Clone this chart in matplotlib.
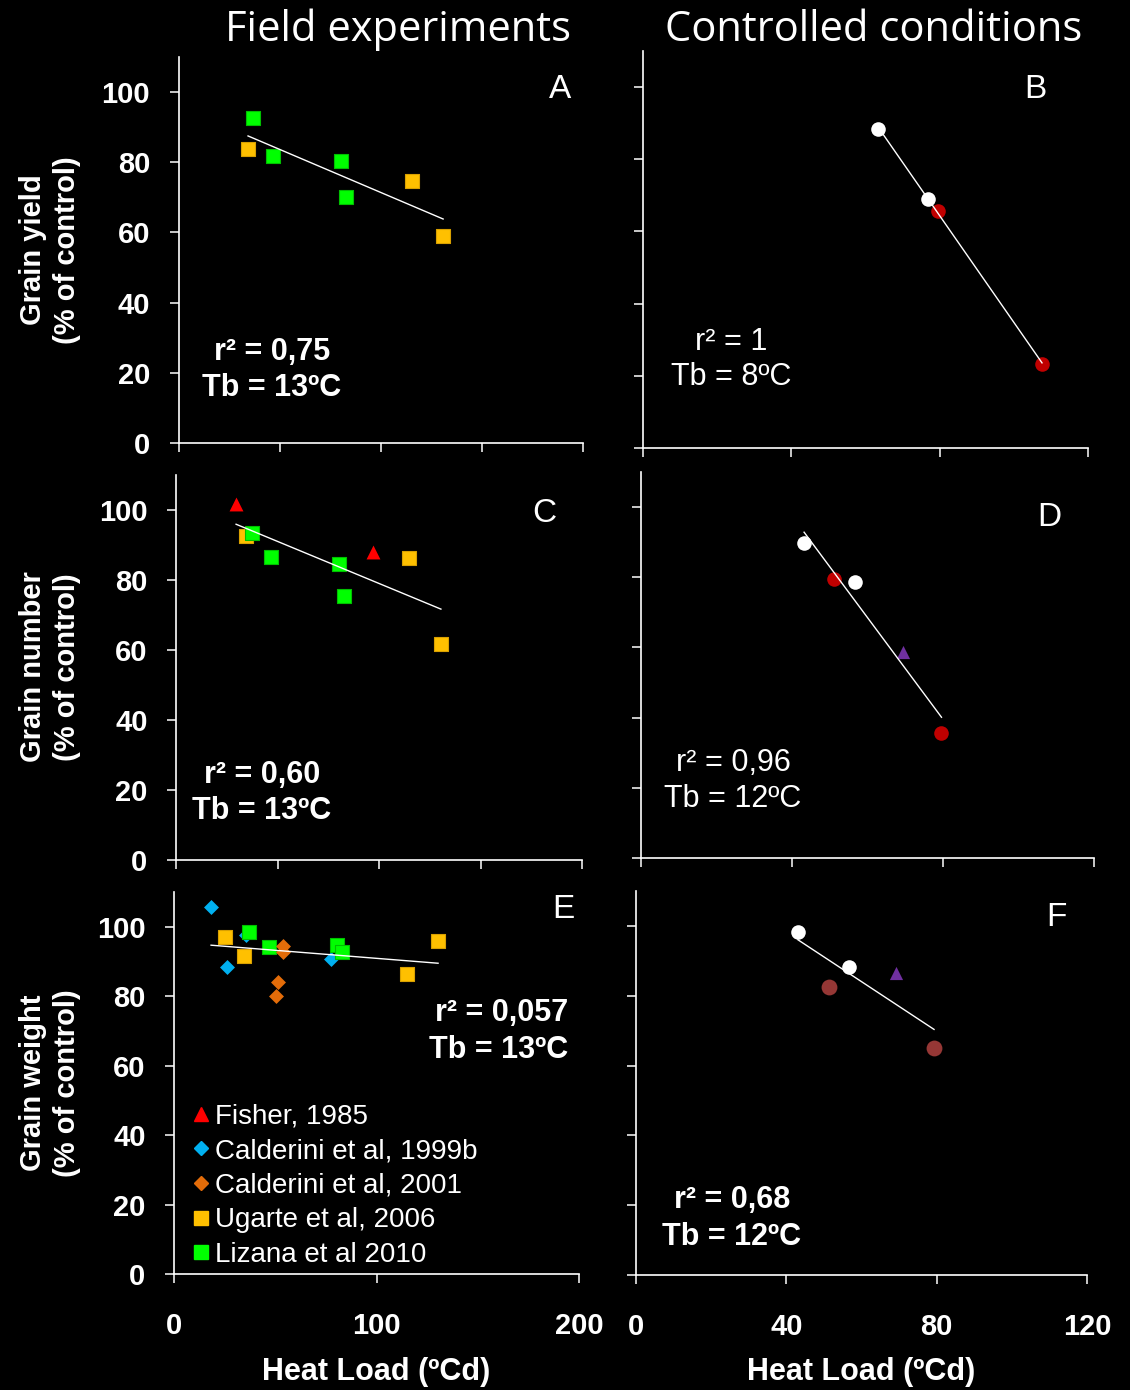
import matplotlib.pyplot as plt
import numpy as np
from matplotlib.lines import Line2D

# Field experiments (heat load in ºCd, value in % of control)
# A - grain yield
ugarte_yield_x = [34.3, 115.5, 130.8]
ugarte_yield_y = [83.8, 74.6, 59.0]
lizana_yield_x = [36.8, 46.7, 80.3, 82.8]
lizana_yield_y = [92.6, 81.8, 80.3, 70.0]

# C - grain number
fisher_number_x = [29.6, 97.0]
fisher_number_y = [101.7, 88.0]
ugarte_number_x = [34.5, 114.8, 130.5]
ugarte_number_y = [92.6, 86.3, 61.7]
lizana_number_x = [37.4, 46.8, 80.3, 82.8]
lizana_number_y = [93.4, 86.6, 84.6, 75.4]

# E - grain weight
calderini99_weight_x = [18.3, 35.5, 26.2, 77.5]
calderini99_weight_y = [105.8, 97.7, 88.5, 90.8]
calderini01_weight_x = [53.8, 53.8, 51.4, 50.4]
calderini01_weight_y = [94.5, 92.7, 84.2, 80.0]
ugarte_weight_x = [25.2, 34.6, 115.0, 130.4]
ugarte_weight_y = [97.1, 91.6, 86.5, 96.0]
lizana_weight_x = [37.0, 46.9, 80.5, 83.0]
lizana_weight_y = [98.6, 94.3, 94.8, 92.8]

# Controlled conditions
# B - grain yield
white_yield_x = [63.4, 76.9]
white_yield_y = [88.4, 69.0]
red_yield_x = [79.6, 107.6]
red_yield_y = [65.7, 23.3]

# D - grain number
white_number_x = [43.2, 56.8]
white_number_y = [89.7, 78.6]
red_number_x = [51.2, 79.6]
red_number_y = [79.5, 35.6]
purple_number_x = [69.5]
purple_number_y = [58.7]

# F - grain weight
white_weight_x = [43.1, 56.6]
white_weight_y = [98.3, 88.3]
brown_weight_x = [51.3, 79.3]
brown_weight_y = [82.5, 65.0]
purple_weight_x = [69.1]
purple_weight_y = [86.5]

legend_labels = ['Fisher, 1985', 'Calderini et al, 1999b',
                 'Calderini et al, 2001', 'Ugarte et al, 2006',
                 'Lizana et al 2010']

W, H = 1130, 1390
FONT = 'Liberation Sans'

# marker styles
FISHER = dict(marker='^', s=100, color='#FF0000', linewidths=0)
CALD99 = dict(marker='D', s=58, color='#00B0F0', linewidths=0)
CALD01 = dict(marker='D', s=58, color='#E36C09', linewidths=0)
UGARTE = dict(marker='s', s=100, facecolor='#FFC000', edgecolor='#D9A000',
              linewidths=0.8)
LIZANA = dict(marker='s', s=100, facecolor='#00FF00', edgecolor='#00C000',
              linewidths=0.8)
WHITE = dict(marker='o', s=110, color='white', linewidths=0)
RED = dict(marker='o', s=110, color='#C00000', linewidths=0)
BROWN = dict(marker='o', s=130, color='#953735', linewidths=0)
PURPLE = dict(marker='^', s=90, color='#7030A0', linewidths=0)


def rect(left, right, top, bottom):
    """Axes rectangle from pixel edges (origin top-left)."""
    return [left / W, 1 - bottom / H, (right - left) / W, (bottom - top) / H]


def fxy(x, y):
    return x / W, 1 - y / H


def setup_axes(ax, xmax, xticks, show_x, show_y):
    ax.set_facecolor('black')
    ax.set_xlim(0, xmax)
    ax.set_ylim(0, 110)
    ax.set_xticks(xticks)
    ax.set_yticks(range(0, 101, 20))
    for side in ['top', 'right']:
        ax.spines[side].set_visible(False)
    for side in ['left', 'bottom']:
        ax.spines[side].set_color('white')
        ax.spines[side].set_linewidth(1.2)
    ax.tick_params(axis='both', colors='white', direction='out',
                   length=6.5, width=1.1, labelsize=21)
    ax.tick_params(axis='y', pad=14, labelleft=show_y)
    ax.tick_params(axis='x', pad=21, labelbottom=show_x)
    for lab in ax.get_xticklabels() + ax.get_yticklabels():
        lab.set_fontweight('bold')
        lab.set_family(FONT)


def fit_line(ax, xs, ys):
    """Least squares line drawn over the range of the data."""
    x = np.concatenate([np.asarray(v, float) for v in xs])
    y = np.concatenate([np.asarray(v, float) for v in ys])
    slope, icpt = np.polyfit(x, y, 1)
    xl = np.array([x.min(), x.max()])
    ax.plot(xl, slope * xl + icpt, color='white', lw=1.0, zorder=5)


fig = plt.figure(figsize=(W / 100, H / 100), dpi=100, facecolor='black')

axA = fig.add_axes(rect(178.7, 583, 57, 443))
axB = fig.add_axes(rect(643, 1088, 51, 448))
axC = fig.add_axes(rect(176, 582, 475, 860))
axD = fig.add_axes(rect(641, 1094, 472, 858))
axE = fig.add_axes(rect(174, 579, 892, 1274))
axF = fig.add_axes(rect(636, 1087, 891, 1275))

setup_axes(axA, 200, [0, 50, 100, 150, 200], False, True)
setup_axes(axC, 200, [0, 50, 100, 150, 200], False, True)
setup_axes(axE, 200, [0, 100, 200], True, True)
setup_axes(axB, 120, [0, 40, 80, 120], False, False)
setup_axes(axD, 120, [0, 40, 80, 120], False, False)
setup_axes(axF, 120, [0, 40, 80, 120], True, False)

# A
axA.scatter(ugarte_yield_x, ugarte_yield_y, **UGARTE)
axA.scatter(lizana_yield_x, lizana_yield_y, **LIZANA)
fit_line(axA, [ugarte_yield_x, lizana_yield_x],
         [ugarte_yield_y, lizana_yield_y])

# C
axC.scatter(fisher_number_x, fisher_number_y, **FISHER)
axC.scatter(ugarte_number_x, ugarte_number_y, **UGARTE)
axC.scatter(lizana_number_x, lizana_number_y, **LIZANA)
fit_line(axC, [fisher_number_x, ugarte_number_x, lizana_number_x],
         [fisher_number_y, ugarte_number_y, lizana_number_y])

# E
axE.scatter(calderini99_weight_x, calderini99_weight_y, **CALD99)
axE.scatter(ugarte_weight_x, ugarte_weight_y, **UGARTE)
axE.scatter(lizana_weight_x, lizana_weight_y, **LIZANA)
axE.scatter(calderini01_weight_x, calderini01_weight_y, **CALD01)
fit_line(axE, [calderini99_weight_x, calderini01_weight_x,
               ugarte_weight_x, lizana_weight_x],
         [calderini99_weight_y, calderini01_weight_y,
          ugarte_weight_y, lizana_weight_y])

# B
axB.scatter(white_yield_x, white_yield_y, **WHITE)
axB.scatter(red_yield_x, red_yield_y, **RED)
fit_line(axB, [white_yield_x, red_yield_x], [white_yield_y, red_yield_y])

# D
axD.scatter(white_number_x, white_number_y, **WHITE)
axD.scatter(red_number_x, red_number_y, **RED)
axD.scatter(purple_number_x, purple_number_y, **PURPLE)
fit_line(axD, [white_number_x, red_number_x, purple_number_x],
         [white_number_y, red_number_y, purple_number_y])

# F
axF.scatter(white_weight_x, white_weight_y, **WHITE)
axF.scatter(brown_weight_x, brown_weight_y, **BROWN)
axF.scatter(purple_weight_x, purple_weight_y, **PURPLE)
fit_line(axF, [white_weight_x, brown_weight_x, purple_weight_x],
         [white_weight_y, brown_weight_y, purple_weight_y])

# Legend in panel E
handles = [
    Line2D([], [], ls='none', marker='^', ms=10, color='#FF0000'),
    Line2D([], [], ls='none', marker='D', ms=7.6, color='#00B0F0'),
    Line2D([], [], ls='none', marker='D', ms=7.6, color='#E36C09'),
    Line2D([], [], ls='none', marker='s', ms=10, color='#FFC000'),
    Line2D([], [], ls='none', marker='s', ms=10, color='#00FF00'),
]
leg = axE.legend(handles, legend_labels, loc='lower left',
                 bbox_to_anchor=fxy(190, 1268),
                 bbox_transform=fig.transFigure, frameon=False,
                 handlelength=0.8, handletextpad=0.1, labelspacing=0.31,
                 borderpad=0, borderaxespad=0,
                 prop={'family': FONT, 'size': 20})
for t in leg.get_texts():
    t.set_color('white')

# Column titles
fig.text(*fxy(398, 30), 'Field experiments', color='white', fontsize=30,
         family='Open Sans', ha='center', va='center')
fig.text(*fxy(874, 30), 'Controlled conditions', color='white', fontsize=30,
         family='Open Sans', ha='center', va='center')

# Row labels
for yc, name in [(250, 'Grain yield'), (667, 'Grain number'),
                 (1083, 'Grain weight')]:
    fig.text(*fxy(50, yc), name + '\n(% of control)', color='white',
             fontsize=21, fontweight='bold', family=FONT, rotation=90,
             ha='center', va='center', multialignment='center',
             linespacing=1.25)

# x labels
for xc in [376.5, 861.5]:
    fig.text(*fxy(xc, 1372), 'Heat Load (ºCd)', color='white', fontsize=22,
             fontweight='bold', family=FONT, ha='center', va='center')

# Panel letters
for letter, x, y in [('A', 560, 90), ('B', 1035, 90), ('C', 544, 513),
                     ('D', 1049, 518), ('E', 563, 910), ('F', 1056, 918)]:
    fig.text(*fxy(x, y), letter, color='white', fontsize=24, family=FONT,
             ha='center', va='center')

# Regression statistics
stats = [
    ('r² = 0,75', 'Tb = 13ºC', 272, 352, 388, 'bold', 'center'),
    ('r² = 1', 'Tb = 8ºC', 731, 342, 377, 'normal', 'center'),
    ('r² = 0,60', 'Tb = 13ºC', 262, 775, 811, 'bold', 'center'),
    ('r² = 0,96', 'Tb = 12ºC', 733, 763, 799, 'normal', 'center'),
    ('r² = 0,057', 'Tb = 13ºC', 568, 1013, 1050, 'bold', 'right'),
    ('r² = 0,68', 'Tb = 12ºC', 732, 1200, 1237, 'bold', 'center'),
]
for r2, tb, x, y1, y2, weight, ha in stats:
    fig.text(*fxy(x, y1), r2, color='white', fontsize=22, fontweight=weight,
             family=FONT, ha=ha, va='center')
    fig.text(*fxy(x, y2), tb, color='white', fontsize=22, fontweight=weight,
             family=FONT, ha=ha, va='center')

plt.savefig('out.png', dpi=100, facecolor='black')
